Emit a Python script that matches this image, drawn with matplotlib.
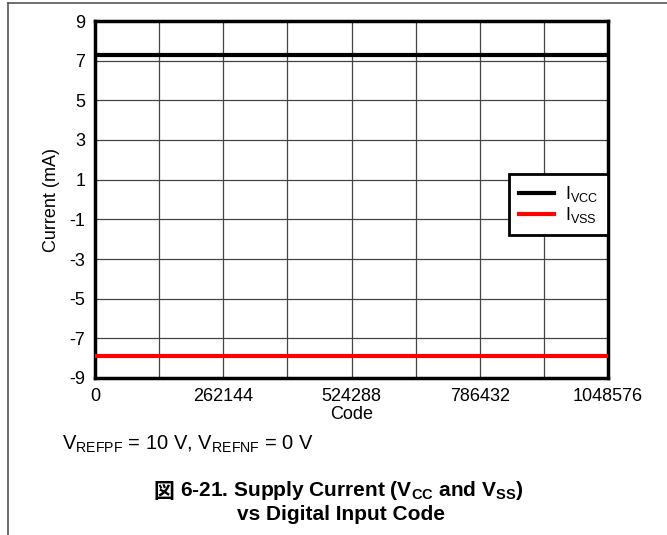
import matplotlib
matplotlib.use("Agg")
import matplotlib.pyplot as plt
from matplotlib.lines import Line2D

plt.rcParams['font.family'] = ['Liberation Sans', 'Noto Sans CJK JP', 'DejaVu Sans']
plt.rcParams['mathtext.fontset'] = 'custom'
plt.rcParams['mathtext.rm'] = 'Liberation Sans'
plt.rcParams['mathtext.it'] = 'Liberation Sans'
plt.rcParams['mathtext.bf'] = 'Liberation Sans:bold'

# Data
codes = [0, 131072, 262144, 393216, 524288, 655360, 786432, 917504, 1048576]
ivcc = [7.3, 7.3, 7.3, 7.3, 7.3, 7.3, 7.3, 7.3, 7.3]
ivss = [-7.9, -7.9, -7.9, -7.9, -7.9, -7.9, -7.9, -7.9, -7.9]
xticks = [0, 262144, 524288, 786432, 1048576]
xminor = [131072, 393216, 655360, 917504]
yticks = [-9, -7, -5, -3, -1, 1, 3, 5, 7, 9]
series_labels = [r'I$_\mathregular{VCC}$', r'I$_\mathregular{VSS}$']

W, H = 667, 535
FS = 13
FSC = 15
fig = plt.figure(figsize=(W / 100, H / 100), dpi=100)

# outer frame lines (left and top)
fig.add_artist(Line2D([8 / W, 8 / W], [0, 1 - 3 / H], color='#555555', lw=1.2))
fig.add_artist(Line2D([8 / W, 1], [1 - 3 / H, 1 - 3 / H], color='#555555', lw=1.2))

ax = fig.add_axes([95 / W, 1 - 378 / H, 513 / W, 357 / H])
ax.plot(codes, ivcc, color='black', lw=3, label=series_labels[0], zorder=3)
ax.plot(codes, ivss, color='#ff0000', lw=3, label=series_labels[1], zorder=3)

ax.set_xlim(0, 1048576)
ax.set_ylim(-9, 9)
ax.set_xticks(xticks)
ax.set_xticks(xminor, minor=True)
ax.set_xticklabels([str(v) for v in xticks])
ax.set_yticks(yticks)
ax.set_yticklabels([str(v) for v in yticks])
ax.grid(True, which='both', color='#444444', lw=0.9)
ax.tick_params(axis='both', which='both', length=0, labelsize=FS, colors='black')
ax.tick_params(axis='x', pad=7)
ax.tick_params(axis='y', pad=7)
for s in ax.spines.values():
    s.set_linewidth(2.5)
    s.set_color('black')
ax.set_xlabel('Code', fontsize=FS, labelpad=1)
ax.set_ylabel('Current (mA)', fontsize=FS, labelpad=7)

leg = ax.legend(loc='center right', bbox_to_anchor=(1.0, 0.485), fontsize=FS,
                frameon=True, fancybox=False, edgecolor='black', framealpha=1,
                borderaxespad=0, handlelength=1.95, handletextpad=0.6,
                labelspacing=0.05, borderpad=0.55)
leg.get_frame().set_linewidth(2)

fig.text(62 / W, 1 - 444 / H,
         r'V$_\mathregular{REFPF}$ = 10 V, V$_\mathregular{REFNF}$ = 0 V',
         fontsize=14.5, ha='left', va='center')
fig.text(153 / W, 1 - 491 / H, '図', family=['Noto Sans CJK JP'],
         fontsize=FSC, fontweight='bold', ha='left', va='center')
fig.text(180 / W, 1 - 491 / H,
         r'6-21. Supply Current ($\mathbf{V_{CC}}$ and $\mathbf{V_{SS}}$)',
         fontsize=FSC, fontweight='bold', ha='left', va='center')
fig.text(341 / W, 1 - 514 / H, 'vs Digital Input Code',
         fontsize=FSC, fontweight='bold', ha='center', va='center')

fig.savefig('out.png', dpi=100)
